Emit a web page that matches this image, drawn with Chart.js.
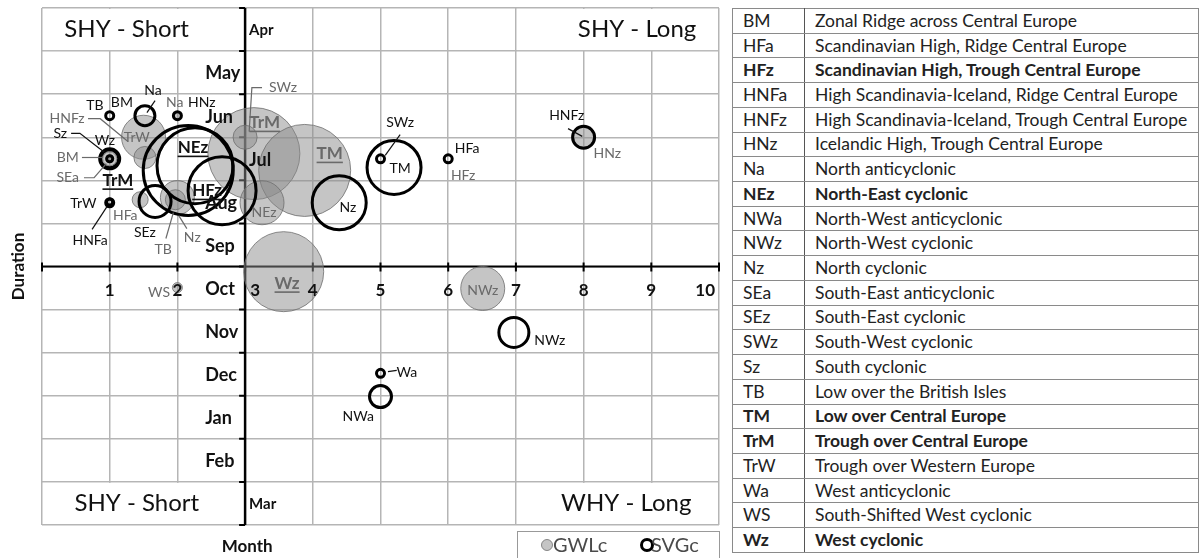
<!DOCTYPE html>
<html lang="en">
<head>
    <meta charset="UTF-8">
    <title>GWLc / SVGc onset and duration</title>
    <style>
        body {
            margin: 0;
            background-color: #fff;
            font-family: Lato, Arial, sans-serif;
        }
        .wrap {
            position: relative;
            width: 1202px;
            height: 558px;
        }
        #chart {
            position: absolute;
            left: 0;
            top: 0;
        }
        #types {
            position: absolute;
            left: 732px;
            top: 8px;
            width: 467px;
            height: 545px;
            border-collapse: collapse;
            font-size: 17.5px;
            color: #222;
        }
        #types td {
            border: 1px solid #8a8a8a;
            padding: 0 0 0 10px;
            white-space: nowrap;
            line-height: 20px;
        }
        #types td:first-child {
            width: 61px;
            border-right: 1.5px solid #555;
        }
        #types tr.b td {
            font-weight: bold;
        }
    </style>
</head>
<body>

<div class="wrap">
    <canvas id="chart" width="726" height="558"></canvas>
    <table id="types"></table>
</div>

<script src="https://cdn.jsdelivr.net/npm/chart.js"></script>
<script>
    // y axis bands, top to bottom
    const months = ['Apr', 'May', 'Jun', 'Jul', 'Aug', 'Sep', 'Oct', 'Nov', 'Dec', 'Jan', 'Feb', 'Mar'];
    const monthsRight = ['Apr', 'Jul', 'Mar'];
    const smallMonths = ['Apr', 'Mar'];
    const xTicks = [1, 2, 3, 4, 5, 6, 7, 8, 9, 10];

    // GWLc (grey bubbles)
    const gwlcNames = ['BM', 'SEa', 'TrW', 'HNFz', 'HFa', 'TB', 'Nz', 'Na', 'TrM', 'SWz', 'TM', 'NEz', 'Wz', 'WS', 'NWz', 'HNz'];
    const gwlcX = [1.0, 1.0, 1.5, 1.52, 1.45, 2.0, 1.97, 2.0, 3.13, 3.0, 3.88, 3.25, 3.57, 2.0, 6.51, 8.0];
    const gwlcY = [2.5, 2.5, 3.0, 2.53, 1.55, 1.6, 1.55, 3.5, 2.62, 3.0, 2.23, 1.48, -0.12, -0.49, -0.51, 3.0];
    const gwlcR = [7, 4, 22, 11, 8, 17, 10, 3, 46, 12, 46, 22, 40, 5, 22, 10];

    // SVGc (black rings)
    const svgcNames = ['TB', 'Na', 'HNz', 'TrM', 'Wz', 'Sz', 'TrW', 'HNFa', 'SEz', 'NEz', 'NEz2', 'HFz', 'Nz', 'TM', 'SWz', 'HFa', 'HNFz', 'NWz', 'Wa', 'NWa'];
    const svgcX = [1.0, 1.52, 2.0, 1.0, 1.0, 1.0, 1.0, 1.0, 1.67, 2.16, 2.26, 2.66, 4.39, 5.2, 5.0, 6.0, 8.0, 6.97, 5.0, 5.0];
    const svgcY = [3.5, 3.5, 3.5, 2.5, 2.5, 2.5, 1.48, 1.5, 1.51, 2.23, 2.34, 1.76, 1.48, 2.3, 2.5, 2.5, 3.0, -1.53, -2.48, -3.02];
    const svgcR = [4, 10, 4, 10, 9, 3, 4, 3, 16, 45, 38, 34, 27, 27, 4, 4, 11, 15, 4, 11];

    // text labels: g = grey (GWLc), k = black (SVGc), u = bold underlined
    const labels = [
        { t: 'TrW', x: 1.40, y: 2.99, c: 'g' },
        { t: 'SWz', x: 3.56, y: 4.15, c: 'g', line: [[3.25, 4.15], [3.10, 4.15], [3.06, 3.13]] },
        { t: 'Na', x: 1.96, y: 3.81, c: 'g' },
        { t: 'HNFz', x: 0.37, y: 3.43, c: 'g', line: [[0.68, 3.43], [0.86, 3.43], [1.27, 2.90]] },
        { t: 'BM', x: 0.38, y: 2.53, c: 'g', line: [[0.59, 2.53], [0.90, 2.53]] },
        { t: 'SEa', x: 0.38, y: 2.06, c: 'g', line: [[0.62, 2.06], [0.77, 2.06], [0.95, 2.39]] },
        { t: 'HFa', x: 1.23, y: 1.18, c: 'g' },
        { t: 'TB', x: 1.79, y: 0.39, c: 'g', line: [[1.83, 0.65], [1.94, 1.25]] },
        { t: 'Nz', x: 2.22, y: 0.67, c: 'g', line: [[2.14, 0.88], [2.02, 1.18]] },
        { t: 'TrM', x: 3.29, y: 3.34, c: 'g', u: true },
        { t: 'TM', x: 4.25, y: 2.62, c: 'g', u: true },
        { t: 'NEz', x: 3.28, y: 1.25, c: 'g' },
        { t: 'Wz', x: 3.62, y: -0.39, c: 'g', u: true },
        { t: 'WS', x: 1.73, y: -0.60, c: 'g' },
        { t: 'NWz', x: 6.51, y: -0.56, c: 'g' },
        { t: 'HNz', x: 8.35, y: 2.62, c: 'g' },
        { t: 'HFz', x: 6.22, y: 2.11, c: 'g' },
        { t: 'TB', x: 0.78, y: 3.74, c: 'k' },
        { t: 'BM', x: 1.18, y: 3.81, c: 'k' },
        { t: 'Na', x: 1.64, y: 4.08, c: 'k', line: [[1.67, 3.85], [1.55, 3.57]] },
        { t: 'HNz', x: 2.36, y: 3.81, c: 'k' },
        { t: 'Sz', x: 0.27, y: 3.09, c: 'k', line: [[0.43, 3.09], [0.56, 3.09], [0.92, 2.65]] },
        { t: 'Wz', x: 0.93, y: 2.92, c: 'k' },
        { t: 'TrM', x: 1.12, y: 2.0, c: 'k', u: true },
        { t: 'TrW', x: 0.61, y: 1.46, c: 'k' },
        { t: 'HNFa', x: 0.71, y: 0.60, c: 'k', line: [[0.74, 0.86], [0.96, 1.39]] },
        { t: 'SEz', x: 1.52, y: 0.79, c: 'k' },
        { t: 'NEz', x: 2.23, y: 2.76, c: 'k', u: true },
        { t: 'HFz', x: 2.44, y: 1.76, c: 'k', u: true },
        { t: 'Nz', x: 4.52, y: 1.37, c: 'k' },
        { t: 'SWz', x: 5.29, y: 3.34, c: 'k', line: [[5.29, 3.06], [5.07, 2.58]] },
        { t: 'TM', x: 5.29, y: 2.27, c: 'k' },
        { t: 'HFa', x: 6.28, y: 2.74, c: 'k' },
        { t: 'HNFz', x: 7.75, y: 3.50, c: 'k', line: [[7.77, 3.20], [7.98, 3.02]] },
        { t: 'NWz', x: 7.50, y: -1.72, c: 'k' },
        { t: 'Wa', x: 5.39, y: -2.46, c: 'k', line: [[5.11, -2.44], [5.24, -2.41]] },
        { t: 'NWa', x: 4.67, y: -3.48, c: 'k' }
    ];

    // corner captions: [text, x, y], and the white boxes behind them [x0, x1, y0, y1]
    const corners = [['SHY - Short', 1.25, 5.5], ['SHY - Long', 8.79, 5.5], ['SHY - Short', 1.40, -5.5], ['WHY - Long', 8.63, -5.5]];
    const cornerBoxes = [[0, 3, 5, 6], [7, 10, 5, 6], [0, 3, -6, -5], [7, 10, -6, -5]];

    // legend table
    const codes = ['BM', 'HFa', 'HFz', 'HNFa', 'HNFz', 'HNz', 'Na', 'NEz', 'NWa', 'NWz', 'Nz', 'SEa', 'SEz', 'SWz', 'Sz', 'TB', 'TM', 'TrM', 'TrW', 'Wa', 'WS', 'Wz'];
    const descriptions = [
        'Zonal Ridge across Central Europe', 'Scandinavian High, Ridge Central Europe', 'Scandinavian High, Trough Central Europe',
        'High Scandinavia-Iceland, Ridge Central Europe', 'High Scandinavia-Iceland, Trough Central Europe', 'Icelandic High, Trough Central Europe',
        'North anticyclonic', 'North-East cyclonic', 'North-West anticyclonic', 'North-West cyclonic', 'North cyclonic',
        'South-East anticyclonic', 'South-East cyclonic', 'South-West cyclonic', 'South cyclonic', 'Low over the British Isles',
        'Low over Central Europe', 'Trough over Central Europe', 'Trough over Western Europe', 'West anticyclonic',
        'South-Shifted West cyclonic', 'West cyclonic'
    ];
    const boldCodes = ['HFz', 'NEz', 'TM', 'TrM', 'Wz'];

    const table = document.getElementById('types');
    codes.forEach((c, i) => {
        const tr = document.createElement('tr');
        if (boldCodes.includes(c)) tr.className = 'b';
        tr.innerHTML = `<td>${c}</td><td>${descriptions[i]}</td>`;
        table.appendChild(tr);
    });

    const FONT = 'Lato, Arial, sans-serif';
    const GREY_TXT = '#6a6a6a';

    function textU(ctx, t, x, y, underline) {
        ctx.fillText(t, x, y);
        if (underline) {
            const w = ctx.measureText(t).width;
            ctx.fillRect(x - w / 2, y + 8, w, 1.6);
        }
    }

    const overlay = {
        id: 'overlay',
        beforeDatasetsDraw(chart) {
            const { ctx, scales: { x, y } } = chart;
            ctx.save();
            // white boxes hiding the grid behind the corner captions
            ctx.fillStyle = '#fff';
            cornerBoxes.forEach(b => {
                const x0 = x.getPixelForValue(b[0]), x1 = x.getPixelForValue(b[1]);
                const y0 = y.getPixelForValue(b[3]), y1 = y.getPixelForValue(b[2]);
                ctx.fillRect(x0 + 1, y0 + 1, x1 - x0 - 2, y1 - y0 - 2);
            });
            ctx.fillStyle = '#111';
            ctx.font = `24px ${FONT}`;
            ctx.textAlign = 'center';
            ctx.textBaseline = 'middle';
            corners.forEach(c => ctx.fillText(c[0], x.getPixelForValue(c[1]), y.getPixelForValue(c[2])));

            // axes crossing at (3, 0)
            const ax = x.getPixelForValue(3), ay = y.getPixelForValue(0);
            ctx.strokeStyle = '#000';
            ctx.lineWidth = 2;
            ctx.beginPath();
            ctx.moveTo(x.getPixelForValue(0), ay);
            ctx.lineTo(x.getPixelForValue(10), ay);
            for (let v = 0; v <= 10; v++) {
                const px = x.getPixelForValue(v);
                ctx.moveTo(px, ay - 4);
                ctx.lineTo(px, ay + 5);
            }
            ctx.stroke();
            ctx.lineWidth = 2.5;
            ctx.beginPath();
            ctx.moveTo(ax, y.getPixelForValue(6));
            ctx.lineTo(ax, y.getPixelForValue(-6));
            ctx.stroke();
            ctx.lineWidth = 2;
            ctx.beginPath();
            for (let v = -6; v <= 6; v++) {
                const py = y.getPixelForValue(v);
                ctx.moveTo(ax - 6, py);
                ctx.lineTo(ax, py);
            }
            ctx.stroke();
            ctx.restore();
        },
        afterDatasetsDraw(chart) {
            const { ctx, chartArea: a, scales: { x, y } } = chart;
            const ax = x.getPixelForValue(3), ay = y.getPixelForValue(0);
            ctx.save();
            ctx.textBaseline = 'middle';

            // month labels
            months.forEach((m, i) => {
                const py = y.getPixelForValue(5.5 - i) + 1;
                ctx.fillStyle = '#111';
                ctx.font = `bold ${smallMonths.includes(m) ? 15 : 18}px ${FONT}`;
                ctx.textAlign = 'left';
                ctx.fillText(m, monthsRight.includes(m) ? ax + 4 : x.getPixelForValue(2.41), py);
            });

            // x tick labels
            ctx.font = `bold 17px ${FONT}`;
            xTicks.forEach(v => {
                let px = x.getPixelForValue(v);
                ctx.textAlign = 'center';
                if (v === 3) px += 10;
                if (v === 10) { ctx.textAlign = 'right'; px = a.right - 4; }
                ctx.fillText(String(v), px, ay + 24);
            });

            // bubble labels and leader lines
            labels.forEach(l => {
                const col = l.c === 'g' ? GREY_TXT : '#111';
                if (l.line) {
                    ctx.strokeStyle = col;
                    ctx.lineWidth = 1.2;
                    ctx.beginPath();
                    l.line.forEach((p, j) => {
                        const px = x.getPixelForValue(p[0]), py = y.getPixelForValue(p[1]);
                        if (j === 0) ctx.moveTo(px, py); else ctx.lineTo(px, py);
                    });
                    ctx.stroke();
                }
                ctx.fillStyle = col;
                ctx.textAlign = 'center';
                ctx.font = l.u ? `bold 17px ${FONT}` : `14px ${FONT}`;
                textU(ctx, l.t, x.getPixelForValue(l.x), y.getPixelForValue(l.y), l.u);
            });

            // axis titles
            ctx.fillStyle = '#111';
            ctx.font = `bold 17px ${FONT}`;
            ctx.textAlign = 'center';
            ctx.fillText('Month', ax + 2, a.bottom + 22);
            ctx.save();
            ctx.translate(19, (a.top + a.bottom) / 2);
            ctx.rotate(-Math.PI / 2);
            ctx.fillText('Duration', 0, 0);
            ctx.restore();

            // legend box
            const lx = a.right - 202, ly = a.bottom + 6;
            ctx.strokeStyle = '#999';
            ctx.lineWidth = 1;
            ctx.strokeRect(lx + 0.5, ly + 0.5, 202, 40);
            const ds = chart.data.datasets;
            const cy = ly + 14;
            ctx.beginPath();
            ctx.arc(lx + 30, cy, 5.5, 0, Math.PI * 2);
            ctx.fillStyle = ds[0].backgroundColor;
            ctx.fill();
            ctx.strokeStyle = ds[0].borderColor;
            ctx.stroke();
            ctx.beginPath();
            ctx.arc(lx + 130, cy, 5.5, 0, Math.PI * 2);
            ctx.strokeStyle = ds[1].borderColor;
            ctx.lineWidth = 3;
            ctx.stroke();
            ctx.fillStyle = '#4a4a4a';
            ctx.font = `20px ${FONT}`;
            ctx.textAlign = 'left';
            ctx.fillText(ds[0].label, lx + 36, cy + 1);
            ctx.fillText(ds[1].label, lx + 134, cy + 1);
            ctx.restore();
        }
    };

    const gridOpts = { color: '#b5b5b5', lineWidth: 1.5, drawTicks: false };

    new Chart(document.getElementById('chart'), {
        type: 'bubble',
        data: {
            datasets: [{
                label: 'GWLc',
                data: gwlcX.map((v, i) => ({ x: v, y: gwlcY[i], r: gwlcR[i], name: gwlcNames[i] })),
                backgroundColor: 'rgba(140, 140, 140, 0.5)',
                borderColor: 'rgba(110, 110, 110, 0.8)',
                borderWidth: 1,
                order: 2
            }, {
                label: 'SVGc',
                data: svgcX.map((v, i) => ({ x: v, y: svgcY[i], r: svgcR[i], name: svgcNames[i] })),
                backgroundColor: 'rgba(0, 0, 0, 0)',
                borderColor: '#000',
                borderWidth: 3,
                order: 1
            }]
        },
        options: {
            responsive: false,
            animation: false,
            events: [],
            layout: { autoPadding: false, padding: { left: 42, right: 7, top: 8, bottom: 33 } },
            plugins: { legend: { display: false }, tooltip: { enabled: false } },
            scales: {
                x: { type: 'linear', min: 0, max: 10, ticks: { display: false, stepSize: 1 }, grid: gridOpts, border: { display: false } },
                y: { type: 'linear', min: -6, max: 6, ticks: { display: false, stepSize: 1 }, grid: gridOpts, border: { display: false } }
            }
        },
        plugins: [overlay]
    });
</script>
</body>
</html>
